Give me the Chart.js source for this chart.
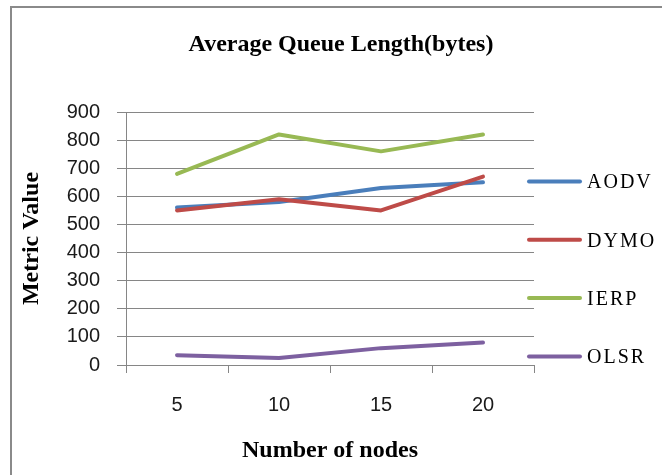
<!DOCTYPE html>
<html>
<head>
<meta charset="utf-8">
<script src="https://cdn.jsdelivr.net/npm/chart.js@4/dist/chart.umd.min.js"></script>
<style>
  html, body { margin: 0; padding: 0; background: #ffffff; }
  canvas { display: block; }
</style>
</head>
<body>
<canvas id="chart" width="662" height="475"></canvas>
<script>
// Number of nodes on the x axis
const categories = ['5', '10', '15', '20'];

// Average queue length per protocol (bytes)
const aodv = [560, 580, 630, 650];
const dymo = [550, 590, 550, 670];
const ierp = [680, 820, 760, 820];
const olsr = [35, 25, 60, 80];

const seriesNames = ['AODV', 'DYMO', 'IERP', 'OLSR'];
const seriesColors = ['#4a7ebb', '#be4b48', '#98b954', '#7d60a0'];
const seriesValues = [aodv, dymo, ierp, olsr];

const chartTitle = 'Average Queue Length(bytes)';
const xTitle = 'Number of nodes';
const yTitle = 'Metric Value';

const serif = '"Liberation Serif", "Times New Roman", serif';
const sans = '"Liberation Sans", Arial, sans-serif';
const gridColor = '#868686';

// Frame, heading and side legend drawn on top of the chart
const decorations = {
  id: 'decorations',
  afterDraw(chart) {
    const ctx = chart.ctx;
    ctx.save();
    // outer frame
    ctx.strokeStyle = '#8a8a8a';
    ctx.lineWidth = 2;
    ctx.strokeRect(11, 7, 700, 520);
    // heading
    ctx.fillStyle = '#000000';
    ctx.font = 'bold 24px ' + serif;
    ctx.textAlign = 'center';
    ctx.textBaseline = 'middle';
    ctx.fillText(chartTitle, 341, 45);
    // legend
    ctx.textAlign = 'left';
    ctx.font = '20px ' + serif;
    ctx.letterSpacing = '2px';
    chart.data.datasets.forEach((ds, i) => {
      const y = 181.5 + i * 58.3;
      ctx.strokeStyle = ds.borderColor;
      ctx.lineWidth = 4;
      ctx.lineCap = 'round';
      ctx.beginPath();
      ctx.moveTo(529, y);
      ctx.lineTo(580, y);
      ctx.stroke();
      ctx.fillStyle = '#000000';
      ctx.fillText(ds.label, 587, y + 1.5);
    });
    ctx.restore();
  }
};

new Chart(document.getElementById('chart'), {
  type: 'line',
  data: {
    labels: categories,
    datasets: seriesNames.map((name, i) => ({
      label: name,
      data: seriesValues[i],
      borderColor: seriesColors[i],
      backgroundColor: seriesColors[i],
      borderWidth: 4,
      borderCapStyle: 'round',
      borderJoinStyle: 'round',
      pointRadius: 0,
      tension: 0,
      fill: false,
      order: seriesNames.length - i
    }))
  },
  options: {
    responsive: false,
    animation: false,
    devicePixelRatio: 1,
    layout: { padding: { left: 17, top: 112, right: 128, bottom: 8 } },
    plugins: {
      legend: { display: false },
      title: { display: false },
      tooltip: { enabled: false }
    },
    scales: {
      x: {
        type: 'category',
        offset: true,
        grid: {
          offset: true,
          drawOnChartArea: false,
          drawTicks: true,
          tickLength: 8,
          color: gridColor
        },
        border: { display: false },
        ticks: {
          color: '#1a1a1a',
          font: { family: sans, size: 20 },
          padding: 20
        },
        title: {
          display: true,
          text: xTitle,
          color: '#000000',
          font: { family: serif, size: 24, weight: 'bold' },
          padding: { top: 0, bottom: 2 }
        },
        afterFit(scale) { scale.height = 102; }
      },
      y: {
        min: 0,
        max: 900,
        ticks: {
          stepSize: 100,
          color: '#1a1a1a',
          font: { family: sans, size: 20 },
          padding: 17
        },
        grid: {
          color: gridColor,
          tickLength: 9,
          drawTicks: true
        },
        border: { display: true, color: gridColor, width: 1 },
        title: {
          display: true,
          text: yTitle,
          color: '#000000',
          font: { family: serif, size: 24, weight: 'bold' },
          padding: { top: 0, bottom: 0 }
        },
        afterFit(scale) { scale.width = 109; }
      }
    }
  },
  plugins: [decorations]
});
</script>
</body>
</html>
